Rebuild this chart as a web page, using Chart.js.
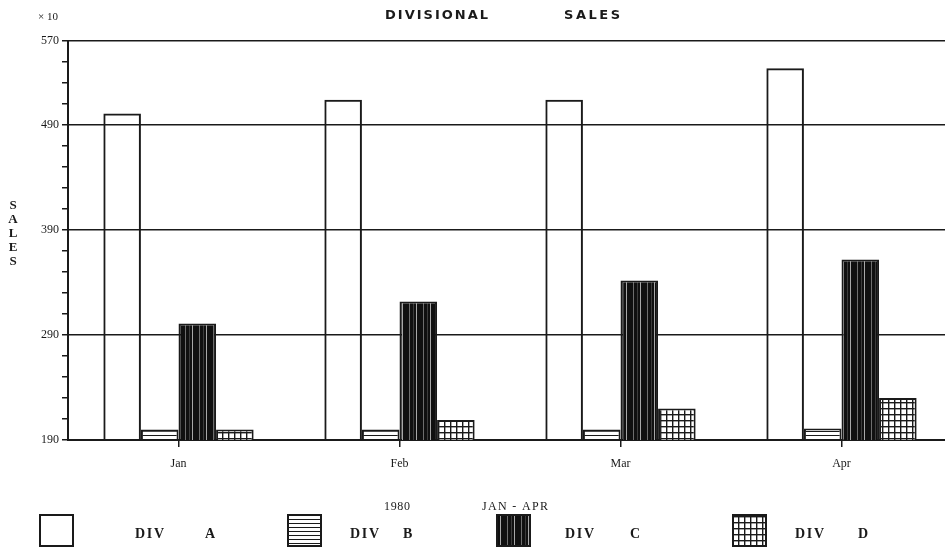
<!DOCTYPE html>
<html>
<head>
<meta charset="utf-8">
<script src="https://cdn.jsdelivr.net/npm/chart.js@4.4.0/dist/chart.umd.min.js"></script>
<style>
  html, body { margin: 0; padding: 0; background: #fff; overflow: hidden; }
  #wrap { width: 960px; height: 547px; }
</style>
</head>
<body>
<div id="wrap"><canvas id="salesChart" width="960" height="547"></canvas></div>
<script>
// Data (x10)
const months = ['Jan', 'Feb', 'Mar', 'Apr'];
const divA = [501, 514, 514, 544];
const divB = [200, 200, 200, 201];
const divC = [301, 322, 342, 362];
const divD = [200, 209, 220, 230];
const seriesNames = ['DIV A', 'DIV B', 'DIV C', 'DIV D'];
const yLabelTicks = [190, 290, 390, 490, 570];
const yGridTicks = [290, 390, 490, 570];

const INK = '#1a1a1a';

// Pola arsiran untuk batang
function makePattern(type) {
    const c = document.createElement('canvas');
    const g = c.getContext('2d');
    if (type === 'hlines') {
        c.width = 4; c.height = 4;
        g.fillStyle = '#fff'; g.fillRect(0, 0, 4, 4);
        g.fillStyle = INK; g.fillRect(0, 3, 4, 1.3);
    } else if (type === 'vlines') {
        c.width = 14; c.height = 4;
        g.fillStyle = '#101010'; g.fillRect(0, 0, 14, 4);
        g.fillStyle = '#6e6e6e'; g.fillRect(3, 0, 1, 4);
        g.fillStyle = '#3c3c3c'; g.fillRect(7, 0, 1, 4);
        g.fillStyle = '#a8a8a8'; g.fillRect(10, 0, 1, 4);
    } else if (type === 'grid') {
        c.width = 6; c.height = 6;
        g.fillStyle = '#fff'; g.fillRect(0, 0, 6, 6);
        g.fillStyle = INK; g.fillRect(0, 0, 6, 1.4); g.fillRect(0, 0, 1.4, 6);
    }
    return g.createPattern(c, 'repeat');
}

const fills = ['rgba(255,255,255,0)', makePattern('hlines'), makePattern('vlines'), makePattern('grid')];

// Tulisan dengan jarak huruf melebar sampai lebar tertentu
function drawSpread(ctx, text, x1, x2, y) {
    const chars = text.split('');
    const widths = chars.map(ch => ctx.measureText(ch).width);
    const total = widths.reduce((a, b) => a + b, 0);
    const gap = chars.length > 1 ? (x2 - x1 - total) / (chars.length - 1) : 0;
    let x = x1;
    ctx.textAlign = 'left';
    chars.forEach((ch, i) => { ctx.fillText(ch, x, y); x += widths[i] + gap; });
}

const decorPlugin = {
    id: 'decor',
    afterDraw(chart) {
        const ctx = chart.ctx;
        ctx.save();
        ctx.fillStyle = INK;
        ctx.textBaseline = 'middle';

        // Judul
        ctx.font = 'bold 13px "DejaVu Sans"';
        drawSpread(ctx, 'DIVISIONAL', 385, 488, 16);
        drawSpread(ctx, 'SALES', 564, 620, 16);

        // faktor skala
        ctx.font = '11px "Liberation Serif"';
        ctx.textAlign = 'left';
        ctx.fillText('\u00d7 10', 38, 17);

        // Label sumbu Y huruf bertumpuk
        ctx.font = 'bold 13px "Liberation Serif"';
        ctx.textAlign = 'center';
        'SALES'.split('').forEach((ch, i) => ctx.fillText(ch, 13, 206 + i * 14));

        // Keterangan periode
        ctx.font = '12px "Liberation Serif"';
        drawSpread(ctx, '1980', 384, 410, 507);
        drawSpread(ctx, 'JAN - APR', 482, 548, 507);

        // Legenda
        const boxX = [40, 288, 497, 733];
        const divX = [135, 350, 565, 795];
        const letX = [205, 403, 630, 858];
        ctx.font = 'bold 14px "Liberation Serif"';
        chart.data.datasets.forEach((ds, i) => {
            ctx.fillStyle = i === 0 ? '#fff' : ds.backgroundColor;
            ctx.fillRect(boxX[i], 515, 33, 31);
            ctx.strokeStyle = INK;
            ctx.lineWidth = 2;
            ctx.strokeRect(boxX[i], 515, 33, 31);
            ctx.fillStyle = INK;
            ctx.textAlign = 'left';
            const parts = seriesNames[i].split(' ');
            drawSpread(ctx, parts[0], divX[i], divX[i] + 29, 534);
            ctx.fillText(parts[1], letX[i], 534);
        });
        ctx.restore();
    }
};

new Chart(document.getElementById('salesChart'), {
    type: 'bar',
    data: {
        labels: months,
        datasets: [divA, divB, divC, divD].map((d, i) => ({
            label: seriesNames[i],
            data: d,
            backgroundColor: fills[i],
            borderColor: INK,
            borderWidth: 2,
            borderSkipped: 'bottom',
            categoryPercentage: 0.68,
            barPercentage: 1.0
        }))
    },
    options: {
        responsive: false,
        animation: false,
        devicePixelRatio: 1,
        layout: { padding: { top: 41, right: 8, left: 0, bottom: 0 } },
        plugins: {
            legend: { display: false },
            title: { display: false },
            tooltip: { enabled: false }
        },
        scales: {
            x: {
                grid: { display: true, drawOnChartArea: false, offset: false, tickLength: 7, color: INK, lineWidth: 1.5 },
                border: { display: true, color: INK, width: 2 },
                ticks: { color: INK, font: { family: 'Liberation Serif', size: 12 }, padding: 10 },
                afterFit: s => { s.height = 107; }
            },
            y: {
                min: 190,
                max: 570,
                ticks: {
                    stepSize: 20,
                    autoSkip: false,
                    color: INK,
                    font: { family: 'Liberation Serif', size: 12 },
                    padding: 3,
                    callback: v => yLabelTicks.includes(v) ? v : ''
                },
                grid: {
                    tickLength: 6,
                    lineWidth: 1.5,
                    color: c => yGridTicks.includes(c.tick && c.tick.value) ? INK : 'rgba(0,0,0,0)',
                    tickColor: INK
                },
                border: { display: true, color: INK, width: 2 },
                afterFit: s => { s.width = 68; }
            }
        }
    },
    plugins: [decorPlugin]
});
</script>
</body>
</html>
